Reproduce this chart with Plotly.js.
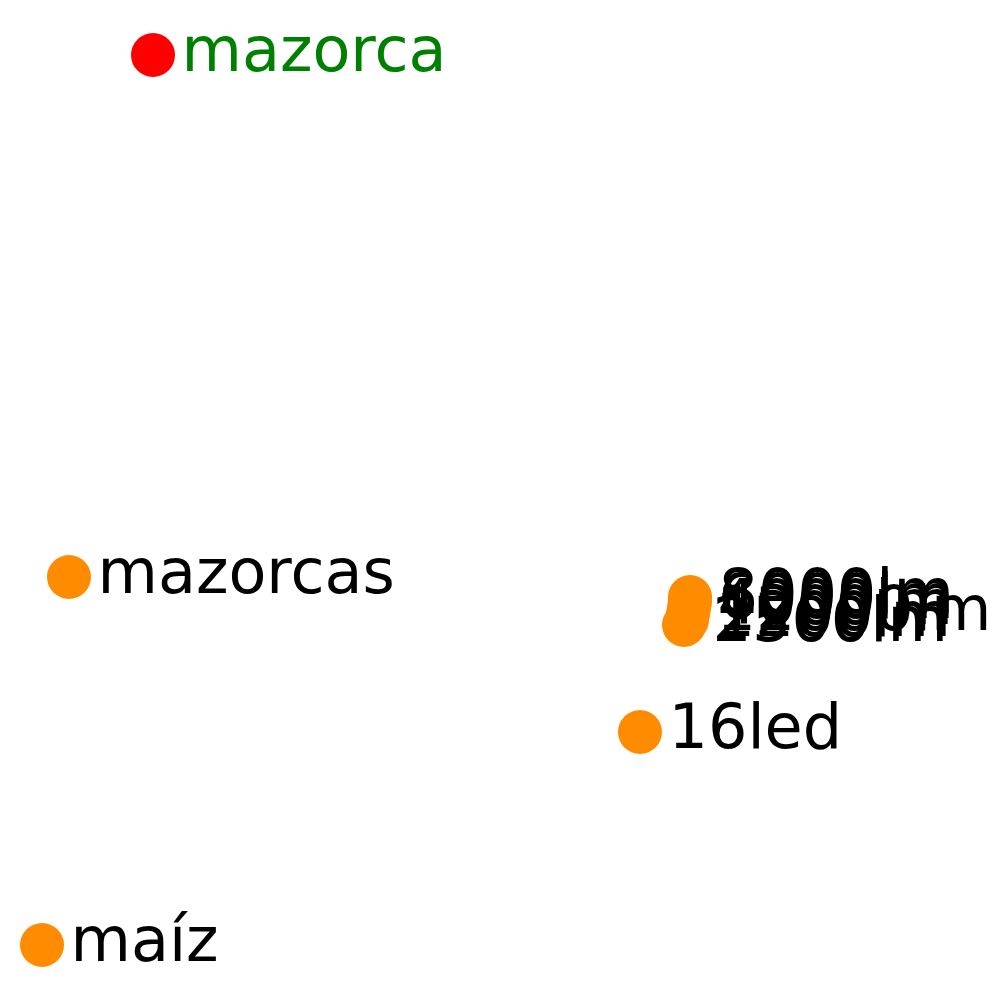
<!DOCTYPE html>
<html>
<head>
<meta charset="utf-8">
<script src="https://cdn.plot.ly/plotly-3.0.1.min.js"></script>
<style>html,body{margin:0;padding:0;background:#fff;}#chart{width:1000px;height:1000px;}</style>
</head>
<body>
<div id="chart"></div>
<script>
// Data (arbitrary 2D projection coordinates)
const words = ["mazorca", "mazorcas", "8000lm", "6000lm", "4000lm", "12000lm", "1200lm", "2500lm", "16led", "maíz"];
const xs    = [153, 69, 690, 690, 689, 688, 687, 684, 640, 42];
const ys    = [945, 423, 403, 398, 392, 386, 380, 375, 268, 55];
const markerColors = ["#FF0000", "#FF8C00", "#FF8C00", "#FF8C00", "#FF8C00", "#FF8C00", "#FF8C00", "#FF8C00", "#FF8C00", "#FF8C00"];
const textColors   = ["#008000", "#000000", "#000000", "#000000", "#000000", "#000000", "#000000", "#000000", "#000000", "#000000"];

const trace = {
  type: "scatter",
  mode: "markers+text",
  x: xs,
  y: ys,
  text: words,
  textposition: "middle right",
  marker: {size: 44, color: markerColors, line: {width: 0}},
  textfont: {family: "DejaVu Sans", size: 62, color: textColors},
  hoverinfo: "none",
  cliponaxis: false
};

const layout = {
  width: 1000, height: 1000,
  margin: {l: 0, r: 0, t: 0, b: 0},
  paper_bgcolor: "#ffffff",
  plot_bgcolor: "#ffffff",
  showlegend: false,
  xaxis: {range: [0, 1000], visible: false, fixedrange: true},
  yaxis: {range: [0, 1000], visible: false, fixedrange: true}
};

Plotly.newPlot("chart", [trace], layout, {displayModeBar: false, staticPlot: true});
</script>
</body>
</html>
